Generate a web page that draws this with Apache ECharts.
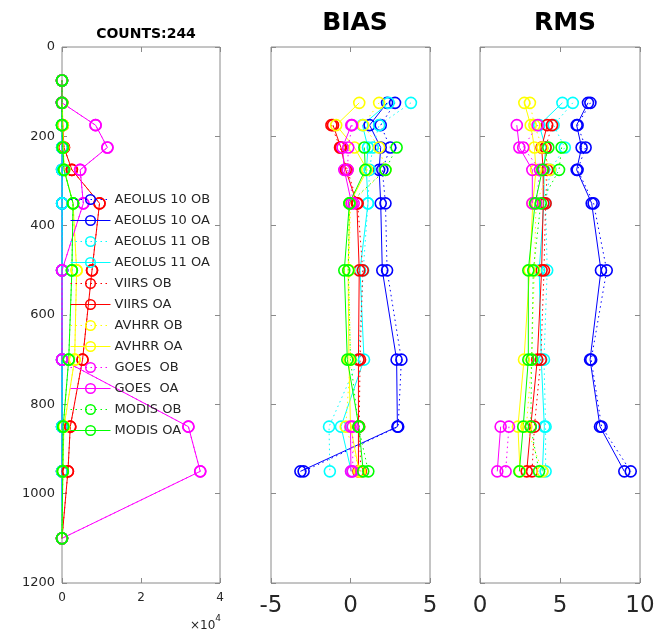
<!DOCTYPE html>
<html>
<head>
<meta charset="utf-8">
<script src="https://cdn.jsdelivr.net/npm/echarts@6/dist/echarts.min.js"></script>
<style>
  html, body { margin: 0; padding: 0; background: #fff; }
  #chart { width: 663px; height: 634px; }
</style>
</head>
<body>
<div id="chart"></div>
<script>
// Pressure levels (hPa) shared by all three panels
const levels = [75, 125, 175, 225, 275, 350, 500, 700, 850, 950, 1100];

// Observation counts per level (same for O-B and O-A)
const countsAeolus10 = [0, 12, 34, 46, 40, 34, 30, 24, 18, 6, 0];
const countsAeolus11 = [0, 8, 20, 30, 28, 26, 22, 18, 14, 4, 0];
const countsViirs    = [0, 0, 200, 500, 2500, 9500, 7600, 5200, 2100, 1500, 0];
const countsAvhrr    = [0, 100, 200, 300, 600, 2800, 3700, 3200, 500, 200, 0];
const countsGoes     = [0, 0, 8500, 11500, 4600, 5400, 0, 0, 32000, 35000, 0];
const countsModis    = [0, 0, 0, 200, 500, 2800, 2500, 1700, 300, 200, 0];

// Bias per level
const biasAeolus10OB = [null, 2.8, 1.9, 2.5, 2.0, 2.2, 2.3, 3.2, 3.0, -2.95, null];
const biasAeolus10OA = [null, 2.3, 1.2, 1.9, 1.8, 1.9, 2.0, 2.9, 2.95, -3.15, null];
const biasAeolus11OB = [null, 3.8, 1.8, 1.4, 1.2, 1.1, 0.8, 0.5, -1.35, -1.3, null];
const biasAeolus11OA = [null, 2.4, 0.75, 1.1, 1.0, 1.1, 0.6, 0.85, -0.6, 0.05, null];
const biasViirsOB    = [null, null, -1.2, -0.66, -0.2, 0.45, 0.77, 0.6, 0.55, 0.65, null];
const biasViirsOA    = [null, null, -1.1, -0.6, -0.3, 0.4, 0.55, 0.5, 0.5, 0.5, null];
const biasAvhrrOB    = [null, 1.8, 0.8, 1.8, 2.2, 0.0, -0.1, 0.0, -0.3, 0.6, null];
const biasAvhrrOA    = [null, 0.55, -0.9, 0.25, 1.05, -0.05, -0.15, -0.1, 0.0, 0.55, null];
const biasGoesOB     = [null, null, 0.1, -0.14, -0.18, 0.2, null, null, 0.14, 0.14, null];
const biasGoesOA     = [null, null, 0.05, -0.5, -0.39, 0.07, null, null, 0.0, 0.03, null];
const biasModisOB    = [null, null, null, 2.9, 2.2, -0.07, -0.14, 0.0, 0.5, 1.12, null];
const biasModisOA    = [null, null, null, 0.87, 0.93, -0.07, -0.39, -0.2, 0.53, 0.8, null];

// RMS per level
const rmsAeolus10OB = [null, 6.9, 6.1, 6.6, 6.1, 7.1, 7.92, 6.95, 7.6, 9.42, null];
const rmsAeolus10OA = [null, 6.75, 6.04, 6.35, 6.04, 6.98, 7.56, 6.88, 7.5, 9.02, null];
const rmsAeolus11OB = [null, 5.8, 4.6, 5.3, 4.4, 4.1, 4.2, 4.0, 4.1, 4.1, null];
const rmsAeolus11OA = [null, 5.15, 3.7, 4.1, 4.0, 4.0, 3.7, 3.83, 4.02, 3.9, null];
const rmsViirsOB    = [null, null, 4.5, 4.1, 4.2, 4.1, 4.0, 3.8, 3.4, 3.25, null];
const rmsViirsOA    = [null, null, 4.2, 3.85, 3.95, 3.95, 3.85, 3.58, 3.17, 2.92, null];
const rmsAvhrrOB    = [null, 3.12, 3.4, 3.9, 4.37, 3.5, 3.4, 3.23, 2.9, 3.9, null];
const rmsAvhrrOA    = [null, 2.77, 3.17, 3.4, 3.5, 3.3, 3.1, 2.75, 2.37, 2.5, null];
const rmsGoesOB     = [null, null, 3.6, 2.7, 3.75, 3.5, null, null, 1.81, 1.6, null];
const rmsGoesOA     = [null, null, 2.3, 2.46, 3.27, 3.27, null, null, 1.29, 1.08, null];
const rmsModisOB    = [null, null, null, 5.1, 4.94, 3.8, 3.33, 3.23, 3.17, 3.69, null];
const rmsModisOA    = [null, null, null, 4.27, 3.9, 3.44, 3.02, 3.02, 2.7, 2.46, null];

// Axis tick values
const countTicks = [0, 20000, 40000];
const biasTicks = [-5, 0, 5];
const rmsTicks = [0, 5, 10];
const levelTicks = [0, 200, 400, 600, 800, 1000, 1200];
const countTotal = 244;

// Series definitions: name, colour, whether dotted (O-B) and the data arrays
const seriesDefs = [
  { name: 'AEOLUS 10 OB', color: '#0000ff', ob: true,  counts: countsAeolus10, bias: biasAeolus10OB, rms: rmsAeolus10OB },
  { name: 'AEOLUS 10 OA', color: '#0000ff', ob: false, counts: countsAeolus10, bias: biasAeolus10OA, rms: rmsAeolus10OA },
  { name: 'AEOLUS 11 OB', color: '#00ffff', ob: true,  counts: countsAeolus11, bias: biasAeolus11OB, rms: rmsAeolus11OB },
  { name: 'AEOLUS 11 OA', color: '#00ffff', ob: false, counts: countsAeolus11, bias: biasAeolus11OA, rms: rmsAeolus11OA },
  { name: 'VIIRS OB',     color: '#ff0000', ob: true,  counts: countsViirs,    bias: biasViirsOB,    rms: rmsViirsOB },
  { name: 'VIIRS OA',     color: '#ff0000', ob: false, counts: countsViirs,    bias: biasViirsOA,    rms: rmsViirsOA },
  { name: 'AVHRR OB',     color: '#ffff00', ob: true,  counts: countsAvhrr,    bias: biasAvhrrOB,    rms: rmsAvhrrOB },
  { name: 'AVHRR OA',     color: '#ffff00', ob: false, counts: countsAvhrr,    bias: biasAvhrrOA,    rms: rmsAvhrrOA },
  { name: 'GOES  OB',     color: '#ff00ff', ob: true,  counts: countsGoes,     bias: biasGoesOB,     rms: rmsGoesOB },
  { name: 'GOES  OA',     color: '#ff00ff', ob: false, counts: countsGoes,     bias: biasGoesOA,     rms: rmsGoesOA },
  { name: 'MODIS OB',     color: '#00ff00', ob: true,  counts: countsModis,    bias: biasModisOB,    rms: rmsModisOB },
  { name: 'MODIS OA',     color: '#00ff00', ob: false, counts: countsModis,    bias: biasModisOA,    rms: rmsModisOA }
];

const AXIS_GRAY = '#8a8a8a';
const TEXT = '#262626';
const FONT = 'DejaVu Sans';

const grids = [
  { left: 62,  top: 47, width: 158, height: 536 },
  { left: 271, top: 47, width: 159, height: 536 },
  { left: 480, top: 47, width: 160, height: 536 }
].map(g => Object.assign({ show: true, borderColor: AXIS_GRAY, borderWidth: 1, backgroundColor: 'transparent' }, g));

function tickAxisX(gridIndex, ticks, labelOpt, position) {
  return {
    type: 'value', gridIndex, position,
    min: ticks[0], max: ticks[ticks.length - 1], interval: ticks[1] - ticks[0],
    axisLine: { show: false, onZero: false },
    splitLine: { show: false },
    axisTick: { show: true, inside: true, length: 5, lineStyle: { color: AXIS_GRAY } },
    axisLabel: labelOpt ? labelOpt : { show: false }
  };
}
function tickAxisY(gridIndex, position, showLabel) {
  return {
    type: 'value', gridIndex, position, inverse: true,
    min: levelTicks[0], max: levelTicks[levelTicks.length - 1], interval: levelTicks[1] - levelTicks[0],
    axisLine: { show: false, onZero: false },
    splitLine: { show: false },
    axisTick: { show: true, inside: true, length: 5, lineStyle: { color: AXIS_GRAY } },
    axisLabel: showLabel
      ? { show: true, color: TEXT, fontFamily: FONT, fontSize: 13, margin: 7, formatter: v => String(v) }
      : { show: false }
  };
}

const bigLabel = { show: true, color: TEXT, fontFamily: FONT, fontSize: 23, margin: 12, formatter: v => String(v) };

const xAxes = [
  tickAxisX(0, countTicks,
    { show: true, color: TEXT, fontFamily: FONT, fontSize: 12, margin: 9, formatter: v => String(v / 10000) }, 'bottom'),
  tickAxisX(0, countTicks, null, 'top'),
  tickAxisX(1, biasTicks, bigLabel, 'bottom'),
  tickAxisX(1, biasTicks, null, 'top'),
  tickAxisX(2, rmsTicks, bigLabel, 'bottom'),
  tickAxisX(2, rmsTicks, null, 'top')
];
const yAxes = [
  tickAxisY(0, 'left', true), tickAxisY(0, 'right', false),
  tickAxisY(1, 'left', false), tickAxisY(1, 'right', false),
  tickAxisY(2, 'left', false), tickAxisY(2, 'right', false)
];

function toPoints(values) {
  return values.map((v, i) => [v === null ? '-' : v, levels[i]]);
}

const series = [];
const panels = [
  { key: 'counts', x: 0, y: 0 },
  { key: 'bias',   x: 2, y: 2 },
  { key: 'rms',    x: 4, y: 4 }
];
panels.forEach(p => {
  seriesDefs.forEach(d => {
    series.push({
      type: 'line',
      name: d.name,
      xAxisIndex: p.x,
      yAxisIndex: p.y,
      data: toPoints(d[p.key]),
      symbol: 'circle',
      symbolSize: 11,
      showSymbol: true,
      connectNulls: false,
      animation: false,
      itemStyle: { color: 'rgba(255,255,255,0)', borderColor: d.color, borderWidth: 1.6 },
      lineStyle: { color: d.color, width: 1, type: d.ob ? [1.5, 3.5] : 'solid' },
      emphasis: { disabled: true }
    });
  });
});

const chart = echarts.init(document.getElementById('chart'), null, { renderer: 'canvas' });
chart.setOption({
  backgroundColor: '#ffffff',
  animation: false,
  title: [
    { text: 'COUNTS:' + countTotal, left: 141, top: 22, textAlign: 'center',
      textStyle: { fontFamily: FONT, fontWeight: 'bold', fontSize: 14, color: '#000' } },
    { text: 'BIAS', left: 350, top: 6, textAlign: 'center',
      textStyle: { fontFamily: FONT, fontWeight: 'bold', fontSize: 25, color: '#000' } },
    { text: 'RMS', left: 560, top: 6, textAlign: 'center',
      textStyle: { fontFamily: FONT, fontWeight: 'bold', fontSize: 25, color: '#000' } }
  ],
  legend: {
    orient: 'vertical',
    left: 70,
    top: 193,
    itemWidth: 40,
    itemHeight: 12,
    itemGap: 8,
    padding: 0,
    selectedMode: false,
    data: seriesDefs.map(d => d.name),
    lineStyle: { width: 1 },
    itemStyle: { borderWidth: 1.5 },
    textStyle: { fontFamily: FONT, fontSize: 13, color: TEXT, padding: [0, 0, 0, -1] }
  },
  graphic: [
    {
      type: 'text', left: 190, top: 614,
      style: {
        text: '{a|\u00d710}{b|4}',
        rich: {
          a: { fontFamily: FONT, fontSize: 12, fill: TEXT, padding: [6, 0, 0, 0] },
          b: { fontFamily: FONT, fontSize: 9, fill: TEXT, verticalAlign: 'top' }
        }
      }
    }
  ],
  grid: grids,
  xAxis: xAxes,
  yAxis: yAxes,
  series
});
</script>
</body>
</html>
